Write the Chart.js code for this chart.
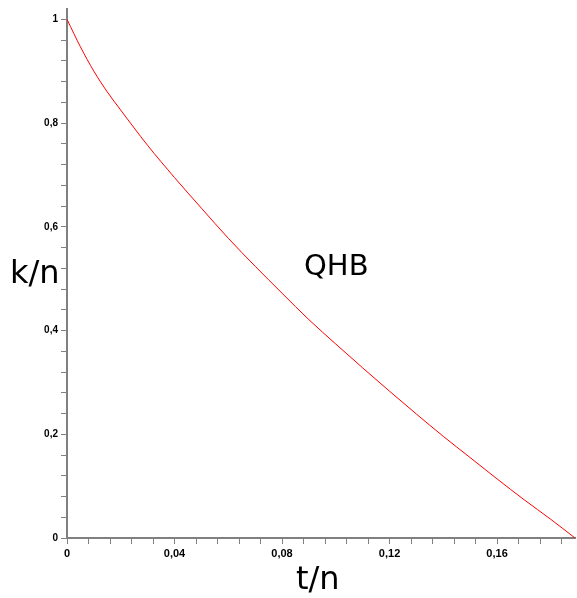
<!DOCTYPE html>
<html>
<head>
<meta charset="utf-8">
<script src="https://cdn.jsdelivr.net/npm/chart.js@4"></script>
<style>
    html, body { margin: 0; padding: 0; background: #fff; }
    canvas { display: block; }
</style>
</head>
<body>
<canvas id="qhbChart" width="577" height="598"></canvas>
<script>
// ============================
// Data
// ============================
const tValues = [0, 0.005, 0.01, 0.015, 0.02, 0.03, 0.04, 0.05, 0.06, 0.07, 0.08, 0.09,
                 0.10, 0.11, 0.12, 0.13, 0.14, 0.15, 0.16, 0.17, 0.18, 0.189];
const kValues = [1.0, 0.947, 0.900, 0.860, 0.825, 0.757, 0.695, 0.636, 0.578, 0.524, 0.472, 0.421,
                 0.374, 0.328, 0.283, 0.239, 0.196, 0.155, 0.114, 0.074, 0.036, 0.0];

const xMajorTicks = [0, 0.04, 0.08, 0.12, 0.16];
const yMajorTicks = [0, 0.2, 0.4, 0.6, 0.8, 1];
const xMinorStep = 0.008;
const yMinorStep = 0.04;

const xAxisTitle = "t/n";
const yAxisTitle = "k/n";
const curveLabel = "QHB";

// ============================
// Helpers
// ============================
function buildTicks(max, step) {
    const ticks = [];
    for (let i = 0; i * step <= max + 1e-9; i++) {
        ticks.push({ value: +(i * step).toFixed(4) });
    }
    return ticks;
}

function formatTick(value, majors) {
    const hit = majors.find(m => Math.abs(m - value) < 1e-6);
    if (hit === undefined) return "";
    return String(hit).replace(".", ",");
}

const axisGrey = "#808080";

// ============================
// Plugin: texts on the canvas
// ============================
const textPlugin = {
    id: "texts",
    afterDraw(chart) {
        const ctx = chart.ctx;
        ctx.save();
        ctx.fillStyle = "#000";
        ctx.textBaseline = "alphabetic";
        ctx.textAlign = "left";
        ctx.font = "32px 'DejaVu Sans'";
        ctx.fillText(yAxisTitle, 10, 283);
        ctx.fillText(xAxisTitle, 296, 589);
        ctx.font = "29px 'DejaVu Sans'";
        ctx.fillText(curveLabel, 304, 275);
        ctx.restore();
    }
};

// ============================
// Chart
// ============================
const points = tValues.map((t, i) => ({ x: t, y: kValues[i] }));

new Chart(document.getElementById("qhbChart"), {
    type: "scatter",
    data: {
        datasets: [{
            data: points,
            showLine: true,
            borderColor: "#ff0000",
            borderWidth: 1,
            pointRadius: 0,
            cubicInterpolationMode: "monotone"
        }]
    },
    options: {
        responsive: false,
        animation: false,
        layout: { padding: { top: 4, right: 2, left: 0, bottom: 0 } },
        plugins: {
            legend: { display: false },
            tooltip: { enabled: false }
        },
        scales: {
            x: {
                type: "linear",
                min: 0,
                max: 0.189,
                border: { color: axisGrey, width: 2 },
                grid: { drawOnChartArea: false, color: axisGrey, tickLength: 6 },
                ticks: {
                    color: "#000",
                    font: { family: "Liberation Sans", size: 11, weight: "bold" },
                    padding: 3,
                    maxRotation: 0,
                    autoSkip: false,
                    callback: v => formatTick(v, xMajorTicks)
                },
                afterBuildTicks: s => { s.ticks = buildTicks(0.189, xMinorStep); },
                afterFit: s => { s.height = 60; }
            },
            y: {
                type: "linear",
                min: 0,
                max: 1.02,
                border: { color: axisGrey, width: 2 },
                grid: { drawOnChartArea: false, color: axisGrey, tickLength: 6 },
                ticks: {
                    color: "#000",
                    font: { family: "Liberation Sans", size: 10, weight: "bold" },
                    padding: 3,
                    autoSkip: false,
                    callback: v => formatTick(v, yMajorTicks)
                },
                afterBuildTicks: s => { s.ticks = buildTicks(1.0, yMinorStep); },
                afterFit: s => { s.width = 67; }
            }
        }
    },
    plugins: [textPlugin]
});
</script>
</body>
</html>
